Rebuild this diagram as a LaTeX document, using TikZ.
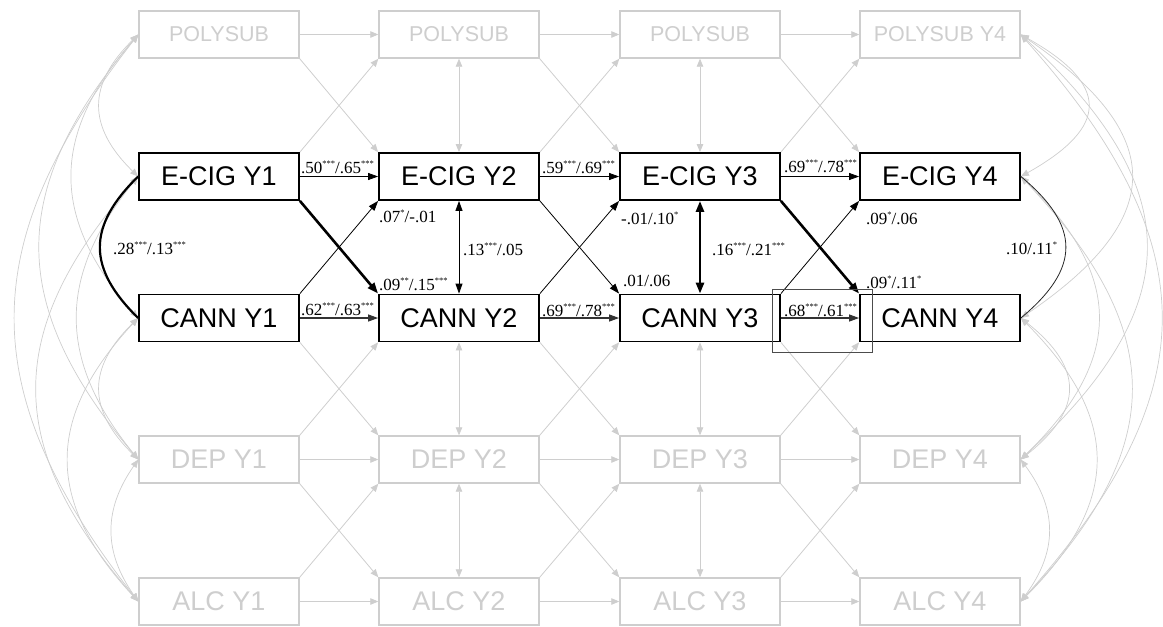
\documentclass[tikz,border=0pt]{standalone}
\usepackage{fontspec}
\setmainfont{Liberation Serif}
\newfontfamily\arialf{Liberation Sans}
\usetikzlibrary{arrows.meta}
\definecolor{lg}{RGB}{206,206,206}
\newcommand{\st}[1]{\raisebox{7pt}{\fontsize{8.5}{8.5}\selectfont #1}}
\begin{document}
\begin{tikzpicture}[x=1pt,y=-1pt,
 box/.style={draw=black, line width=1.8pt, minimum width=160pt, minimum height=47pt, inner sep=0pt, font=\arialf\fontsize{27}{27}\selectfont},
 gbox/.style={draw=lg, line width=1.4pt, text=lg, minimum width=160pt, minimum height=47pt, inner sep=0pt, font=\arialf\fontsize{27}{27}\selectfont},
 pbox/.style={gbox, font=\arialf\fontsize{21.5}{21.5}\selectfont},
 gtip/.tip={Triangle[length=8pt,width=6.5pt]},
 btip/.tip={Triangle[length=10pt,width=7pt]},
 garr/.style={draw=lg, line width=0.8pt, -gtip},
 gdarr/.style={draw=lg, line width=0.8pt, gtip-gtip},
 gcurve/.style={draw=lg, line width=0.7pt, gtip-gtip},
 barr/.style={draw=black, line width=0.8pt, -btip},
 carr/.style={draw=black!80, line width=1.1pt, -btip},
 tharr/.style={draw=black, line width=2.6pt, -{Triangle[length=11pt,width=8pt]}},
 bdarr/.style={draw=black, line width=0.8pt, btip-btip},
 lab/.style={anchor=base west, inner sep=0pt, font=\fontsize{17}{17}\selectfont},
]
\useasboundingbox (0,0) rectangle (1163,627);
% nodes
\node[pbox] (P1) at (219,34.5) {POLYSUB};
\node[pbox] (P2) at (459,34.5) {POLYSUB};
\node[pbox] (P3) at (700,34.5) {POLYSUB};
\node[pbox] (P4) at (940,34.5) {POLYSUB Y4};
\node[box] (E1) at (219,176.5) {E-CIG Y1};
\node[box] (E2) at (459,176.5) {E-CIG Y2};
\node[box] (E3) at (700,176.5) {E-CIG Y3};
\node[box] (E4) at (940,176.5) {E-CIG Y4};
\node[box] (C1) at (219,318) {CANN Y1};
\node[box] (C2) at (459,318) {CANN Y2};
\node[box] (C3) at (700,318) {CANN Y3};
\node[box] (C4) at (940,318) {CANN Y4};
\node[gbox] (D1) at (219,459.5) {DEP Y1};
\node[gbox] (D2) at (459,459.5) {DEP Y2};
\node[gbox] (D3) at (700,459.5) {DEP Y3};
\node[gbox] (D4) at (940,459.5) {DEP Y4};
\node[gbox] (A1) at (219,601.5) {ALC Y1};
\node[gbox] (A2) at (459,601.5) {ALC Y2};
\node[gbox] (A3) at (700,601.5) {ALC Y3};
\node[gbox] (A4) at (940,601.5) {ALC Y4};
% gray horizontal and crosses
\foreach \i/\j in {1/2,2/3,3/4}{
  \draw[garr] (P\i.east) -- (P\j.west);
  \draw[garr] (D\i.east) -- (D\j.west);
  \draw[garr] (A\i.east) -- (A\j.west);
  \draw[garr] (P\i.south east) -- (E\j.north west);
  \draw[garr] (E\i.north east) -- (P\j.south west);
  \draw[garr] (C\i.south east) -- (D\j.north west);
  \draw[garr] (D\i.north east) -- (C\j.south west);
  \draw[garr] (D\i.south east) -- (A\j.north west);
  \draw[garr] (A\i.north east) -- (D\j.south west);
}
% gray verticals
\foreach \i in {2,3}{
  \draw[gdarr] (P\i.south) -- (E\i.north);
  \draw[gdarr] (C\i.south) -- (D\i.north);
  \draw[gdarr] (D\i.south) -- (A\i.north);
}
% left curves
\draw[gcurve] (P1.west) .. controls +(-51,50) and +(-51,-50) .. (E1.west);
\draw[gcurve] (C1.west) .. controls +(-51,50) and +(-51,-50) .. (D1.west);
\draw[gcurve] (D1.west) .. controls +(-35,50) and +(-35,-50) .. (A1.west);
\draw[gcurve] (P1.west) .. controls +(-88,100) and +(-88,-100) .. (C1.west);
\draw[gcurve] (E1.west) .. controls +(-81,100) and +(-81,-100) .. (D1.west);
\draw[gcurve] (C1.west) .. controls +(-93,100) and +(-93,-100) .. (A1.west);
\draw[gcurve] (P1.west) .. controls +(-131,155) and +(-131,-155) .. (D1.west);
\draw[gcurve] (E1.west) .. controls +(-135,155) and +(-135,-155) .. (A1.west);
\draw[gcurve] (P1.west) .. controls +(-164,210) and +(-164,-210) .. (A1.west);
% right curves
\draw[gcurve] (P4.east) .. controls +(89,50) and +(89,-50) .. (E4.east);
\draw[gcurve] (C4.east) .. controls +(63,50) and +(63,-50) .. (D4.east);
\draw[gcurve] (D4.east) .. controls +(37,50) and +(37,-50) .. (A4.east);
\draw[gcurve] (P4.east) .. controls +(147,100) and +(147,-100) .. (C4.east);
\draw[gcurve] (E4.east) .. controls +(103,100) and +(103,-100) .. (D4.east);
\draw[gcurve] (C4.east) .. controls +(100,100) and +(100,-100) .. (A4.east);
\draw[gcurve] (P4.east) .. controls +(167,155) and +(167,-155) .. (D4.east);
\draw[gcurve] (E4.east) .. controls +(147,155) and +(147,-155) .. (A4.east);
\draw[gcurve] (P4.east) .. controls +(187,210) and +(187,-210) .. (A4.east);
% black curves
\draw[draw=black, line width=2.2pt] (E1.west) .. controls +(-51,50) and +(-51,-50) .. (C1.west);
\draw[draw=black!85, line width=0.8pt] (E4.east) .. controls +(60,50) and +(60,-50) .. (C4.east);
% black horizontal
\foreach \i/\j in {1/2,2/3,3/4}{
  \draw[barr] (E\i.east) -- (E\j.west);
  \draw[carr] (C\i.east) -- (C\j.west);
}
% black crosses
\draw[tharr] (E1.south east) -- (C2.north west);
\draw[barr] (C1.north east) -- (E2.south west);
\draw[barr] (E2.south east) -- (C3.north west);
\draw[barr] (C2.north east) -- (E3.south west);
\draw[tharr] (E3.south east) -- (C4.north west);
\draw[barr] (C3.north east) -- (E4.south west);
% black verticals
\draw[bdarr] (E2.south) -- (C2.north);
\draw[draw=black, line width=2.6pt, {Triangle[length=11pt,width=8pt]}-{Triangle[length=11pt,width=8pt]}] (E3.south) -- (C3.north);
% artifact rectangle
\draw[draw=black!70, line width=0.7pt] (772,289) rectangle (872,352);
% labels
\node[lab] (l1) at (301,173) {.50\st{***}/.65\st{***}};
\node[lab] (l2) at (301,315) {.62\st{***}/.63\st{***}};
\node[lab] (l3) at (542,173) {.59\st{***}/.69\st{***}};
\node[lab] (l4) at (542,316) {.69\st{***}/.78\st{***}};
\node[lab] (l5) at (784,172) {.69\st{***}/.78\st{***}};
\node[lab] (l6) at (784,316) {.68\st{***}/.61\st{***}};
\node[lab] (l7) at (113,254) {.28\st{***}/.13\st{***}};
\node[lab] (l8) at (379,222) {.07\st{*}/-.01};
\node[lab] (l9) at (379,290) {.09\st{**}/.15\st{***}};
\node[lab] (l10) at (463,255) {.13\st{***}/.05};
\node[lab] (l11) at (621,224) {-.01/.10\st{*}};
\node[lab] (l12) at (623,286) {.01/.06};
\node[lab] (l13) at (712,255) {.16\st{***}/.21\st{***}};
\node[lab] (l14) at (866,224) {.09\st{*}/.06};
\node[lab] (l15) at (866,288) {.09\st{*}/.11\st{*}};
\node[lab] (l16) at (1006,254) {.10/.11\st{*}};
\end{tikzpicture}
\end{document}
